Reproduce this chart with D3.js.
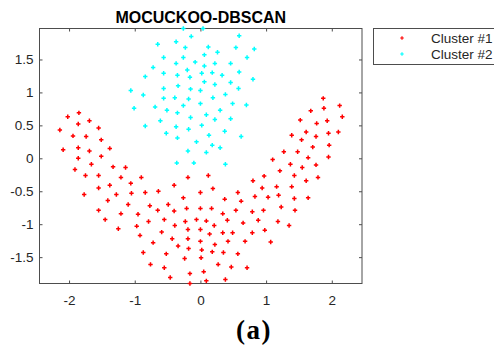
<!DOCTYPE html>
<html>
<head>
<meta charset="utf-8">
<script src="https://cdn.jsdelivr.net/npm/d3@7"></script>
<style>
  body { margin: 0; background: #fff; }
  svg { display: block; font-family: "Liberation Sans", Arial, Helvetica, sans-serif; }
</style>
</head>
<body>
<div id="chart"></div>
<script>
// cluster #1 (red): [x, y]
const cluster1 = [
  [-1.85,0.69],[-2.02,0.63],[-1.69,0.57],[-1.86,0.52],[-1.55,0.46],[-2.14,0.43],[-1.94,0.34],[-1.74,0.33],
  [-1.51,0.28],[-2.09,0.13],[-1.86,0.16],[-1.69,0.11],[-1.38,0.15],[-1.51,0.03],[-1.86,0.00],[-1.91,-0.17],
  [-1.66,-0.09],[-1.33,-0.13],[-1.14,-0.14],[-1.75,-0.26],[-1.55,-0.26],[-1.21,-0.29],[-0.90,-0.29],[-1.38,-0.41],
  [-1.06,-0.38],[-1.55,-0.45],[-1.77,-0.55],[-1.28,-0.55],[-1.05,-0.53],[-0.84,-0.52],[-1.41,-0.64],[-1.10,-0.70],
  [-0.77,-0.72],[-1.55,-0.79],[-1.21,-0.84],[-0.95,-0.85],[-1.45,-0.93],[-0.79,-0.96],[-1.25,-1.07],[-0.97,-1.03],
  [-0.92,-1.17],[-0.87,-1.43],[-0.76,-1.61],
  [-0.19,-0.29],[0.12,-0.26],[-0.40,-0.41],[0.19,-0.46],[-0.64,-0.50],[-0.26,-0.60],[0.00,-0.52],[0.37,-0.62],
  [0.57,-0.52],[0.80,-0.34],[0.83,-0.58],[-0.49,-0.70],[-0.65,-0.79],[-0.40,-0.80],[-0.21,-0.76],[0.00,-0.76],
  [0.17,-0.76],[0.34,-0.84],[0.54,-0.79],[0.62,-0.65],[0.79,-0.81],[-0.55,-0.93],[-0.39,-1.02],[-0.23,-0.96],
  [-0.06,-0.93],[0.09,-0.95],[0.21,-1.02],[0.41,-0.94],[0.65,-0.98],[-0.59,-1.12],[-0.19,-1.08],[0.00,-1.08],
  [0.14,-1.15],[0.34,-1.13],[0.49,-1.13],[0.79,-1.13],[-0.72,-1.28],[-0.43,-1.22],[-0.19,-1.22],[0.00,-1.26],
  [0.22,-1.31],[0.42,-1.26],[0.68,-1.26],[-0.34,-1.33],[-0.18,-1.37],[0.02,-1.39],[0.18,-1.42],[0.35,-1.43],
  [0.57,-1.45],[-0.52,-1.45],[-0.24,-1.52],[0.01,-1.51],[0.27,-1.61],[0.47,-1.65],[0.71,-1.66],[-0.55,-1.66],
  [0.05,-1.72],[-0.16,-1.75],[-0.46,-1.81],[0.38,-1.84],[0.09,-1.86],[-0.16,-1.90],
  [1.10,-0.02],[1.64,0.01],[1.95,0.02],[1.37,-0.09],[1.55,-0.14],[1.76,-0.10],[1.21,-0.19],[0.97,-0.27],
  [1.43,-0.26],[1.79,-0.29],[1.61,-0.34],[1.16,-0.43],[1.39,-0.43],[0.94,-0.45],[1.03,-0.59],[1.19,-0.56],
  [1.43,-0.61],[1.64,-0.60],[1.23,-0.74],[1.44,-0.79],[0.96,-0.79],[0.88,-0.94],[1.18,-0.96],[1.35,-1.02],
  [0.98,-1.09],[1.07,-1.27],[1.87,0.91],[2.12,0.80],[1.88,0.76],[1.68,0.72],[2.16,0.63],[1.52,0.58],
  [1.93,0.57],[1.77,0.53],[1.61,0.40],[1.95,0.38],[2.10,0.40],[1.39,0.35],[1.76,0.33],[1.54,0.28],
  [1.96,0.20],[1.71,0.17],[1.27,0.10],[1.48,0.10]
];

// cluster #2 (cyan): [x, y]
const cluster2 = [
  [-0.26,1.97],[0.04,1.97],[-0.14,1.85],[-0.65,1.73],[-0.37,1.77],[-0.23,1.68],[0.12,1.69],[0.26,1.61],
  [0.59,1.86],[0.54,1.68],[0.71,1.53],[-0.56,1.53],[-0.26,1.53],[0.06,1.57],[-0.37,1.44],[-0.08,1.46],
  [0.22,1.44],[0.46,1.44],[-0.72,1.38],[0.06,1.40],[-0.20,1.34],[-0.56,1.29],[-0.35,1.26],[0.02,1.29],
  [0.18,1.30],[0.33,1.26],[0.59,1.31],[-0.84,1.24],[-0.16,1.23],[0.06,1.16],[0.46,1.15],[-1.06,1.03],
  [-0.56,1.06],[-0.34,1.10],[-0.15,1.05],[0.00,1.03],[0.22,1.12],[0.58,1.06],[-0.87,0.96],[-0.56,0.91],
  [-0.39,0.92],[-0.18,0.90],[0.19,0.92],[0.38,0.97],[-1.01,0.76],[-0.69,0.78],[-0.51,0.73],[-0.26,0.80],
  [0.00,0.83],[0.49,0.83],[0.70,0.81],[0.30,0.73],[-0.35,0.69],[0.09,0.66],[-0.61,0.57],[-0.15,0.62],
  [0.22,0.59],[0.46,0.60],[-0.84,0.49],[-0.37,0.48],[0.02,0.50],[-0.18,0.44],[-0.52,0.38],[-0.35,0.31],
  [0.13,0.35],[0.37,0.41],[0.62,0.33],[-0.06,0.25],[0.18,0.20],[0.30,0.16],[-0.19,0.11],[0.09,0.09],
  [-0.36,-0.07],[-0.10,-0.07],[0.38,-0.09],[0.82,1.66],[0.80,1.20]
];

const xTicks = [-2, -1, 0, 1, 2];
const yTicks = [-1.5, -1, -0.5, 0, 0.5, 1, 1.5];
const seriesNames = ["Cluster #1", "Cluster #2"];
const seriesColors = ["#ff0000", "#00ffff"];
const title = "MOCUCKOO-DBSCAN";
const caption = "(a)";

const width = 494, height = 348;
const margin = {top: 28.5, left: 39.5, right: 132, bottom: 64.5};
const axisColor = "#4d4d4d";
const textColor = "#262626";

const svg = d3.select("#chart").append("svg")
  .attr("width", width)
  .attr("height", height);

svg.append("rect").attr("width", width).attr("height", height).attr("fill", "#fff");

const x = d3.scaleLinear()
  .domain([-2.45, 2.46])
  .range([margin.left, width - margin.right]);

const y = d3.scaleLinear()
  .domain([-1.90, 1.97])
  .range([height - margin.bottom, margin.top]);

const x0 = x.range()[0], x1 = x.range()[1];
const y0 = y.range()[0], y1 = y.range()[1];

// axes, ticks pointing inward
function styleAxis(g) {
  g.select(".domain").remove();
  g.selectAll("line").attr("stroke", axisColor);
  g.selectAll("text").attr("fill", textColor).attr("font-size", "13.5px");
}

svg.append("g")
  .attr("transform", "translate(0," + y0 + ")")
  .call(d3.axisBottom(x).tickValues(xTicks).tickSizeInner(-3).tickSizeOuter(0)
    .tickPadding(11.5).tickFormat(d => String(d)))
  .call(styleAxis);

svg.append("g")
  .attr("transform", "translate(" + x0 + ",0)")
  .call(d3.axisLeft(y).tickValues(yTicks).tickSizeInner(-3).tickSizeOuter(0)
    .tickPadding(6).tickFormat(d => String(d)))
  .call(styleAxis);

svg.append("g")
  .attr("transform", "translate(0," + y1 + ")")
  .call(d3.axisTop(x).tickValues(xTicks).tickSizeInner(-3).tickSizeOuter(0).tickFormat(""))
  .call(styleAxis);

svg.append("g")
  .attr("transform", "translate(" + x1 + ",0)")
  .call(d3.axisRight(y).tickValues(yTicks).tickSizeInner(-3).tickSizeOuter(0).tickFormat(""))
  .call(styleAxis);

svg.append("rect")
  .attr("x", x0).attr("y", y1)
  .attr("width", x1 - x0).attr("height", y0 - y1)
  .attr("fill", "none")
  .attr("stroke", axisColor)
  .attr("stroke-width", 1);

// plus markers
const plus = "M-2.2,0H2.2M0,-2.2V2.2";
[cluster1, cluster2].forEach((pts, i) => {
  svg.append("g")
    .selectAll("path")
    .data(pts)
    .enter()
    .append("path")
    .attr("d", plus)
    .attr("transform", d => "translate(" + x(d[0]) + "," + y(d[1]) + ")")
    .attr("stroke", seriesColors[i])
    .attr("stroke-width", 1.5)
    .attr("fill", "none");
});

// title
svg.append("text")
  .attr("x", (x0 + x1) / 2)
  .attr("y", 22.5)
  .attr("text-anchor", "middle")
  .attr("font-size", "16px")
  .attr("font-weight", "bold")
  .attr("fill", "#000")
  .text(title);

// legend
const legend = svg.append("g").attr("transform", "translate(373.5,28.5)");
legend.append("rect")
  .attr("width", 140).attr("height", 36)
  .attr("fill", "#fff")
  .attr("stroke", axisColor);

seriesNames.forEach((name, i) => {
  const row = legend.append("g").attr("transform", "translate(0," + (9.5 + i * 16) + ")");
  row.append("path")
    .attr("d", "M-1.8,0H1.8M0,-1.8V1.8")
    .attr("transform", "translate(28.5,0)")
    .attr("stroke", seriesColors[i])
    .attr("stroke-width", 1.2);
  row.append("text")
    .attr("x", 57.5)
    .attr("y", 5.3)
    .attr("font-size", "13.5px")
    .attr("fill", textColor)
    .text(name);
});

// caption
svg.append("text")
  .attr("x", 254)
  .attr("y", 339)
  .attr("text-anchor", "middle")
  .attr("font-family", "'Liberation Serif', 'Times New Roman', serif")
  .attr("font-weight", "bold")
  .attr("font-size", "27px")
  .attr("letter-spacing", "1.5px")
  .attr("fill", "#000")
  .text(caption);
</script>
</body>
</html>
